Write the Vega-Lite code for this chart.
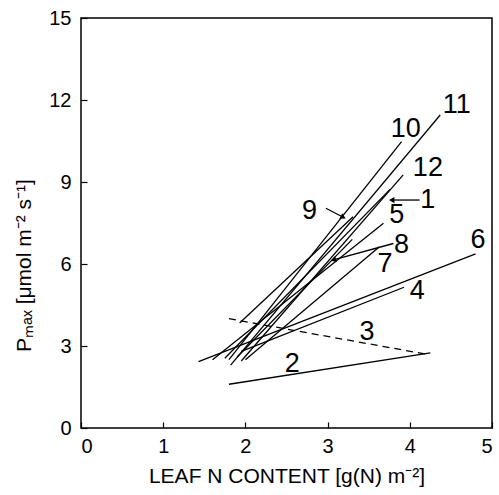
{
  "$schema": "https://vega.github.io/schema/vega-lite/v6.json",
  "width": 411,
  "height": 410,
  "autosize": "none",
  "padding": {"left": 81, "top": 18, "right": 7, "bottom": 67},
  "config": {
    "view": {"stroke": "black", "strokeWidth": 1.5},
    "font": "Liberation Sans",
    "axis": {
      "grid": false,
      "domain": false,
      "tickColor": "black",
      "tickSize": -6,
      "tickWidth": 1.2,
      "labelColor": "black",
      "labelFont": "Liberation Sans",
      "labelFontSize": 20,
      "titleFont": "Liberation Sans",
      "titleFontSize": 21,
      "titleFontWeight": "normal",
      "titleColor": "black"
    }
  },
  "datasets": {
    "segs": [
      {"id": "1", "x": 1.75, "y": 2.55, "x2": 3.76, "y2": 8.73, "dash": "solid"},
      {"id": "2", "x": 1.8, "y": 1.6, "x2": 4.25, "y2": 2.75, "dash": "solid"},
      {"id": "3", "x": 1.8, "y": 4.0, "x2": 4.2, "y2": 2.7, "dash": "dashed"},
      {"id": "4", "x": 1.95, "y": 2.8, "x2": 3.93, "y2": 5.15, "dash": "solid"},
      {"id": "5", "x": 1.6, "y": 2.5, "x2": 3.68, "y2": 7.49, "dash": "solid"},
      {"id": "6", "x": 1.43, "y": 2.43, "x2": 4.8, "y2": 6.37, "dash": "solid"},
      {"id": "7", "x": 2.0, "y": 2.5, "x2": 3.63, "y2": 6.63, "dash": "solid"},
      {"id": "8", "x": 1.9, "y": 2.6, "x2": 3.3, "y2": 6.9, "dash": "solid"},
      {"id": "9", "x": 1.93, "y": 3.84, "x2": 3.31, "y2": 7.73, "dash": "solid"},
      {"id": "10", "x": 1.8, "y": 2.5, "x2": 3.9, "y2": 10.48, "dash": "solid"},
      {"id": "11", "x": 1.82, "y": 2.3, "x2": 4.37, "y2": 11.45, "dash": "solid"},
      {"id": "12", "x": 1.95, "y": 2.45, "x2": 3.92, "y2": 9.26, "dash": "solid"}
    ],
    "labels": [
      {"label": "10", "x": 3.95, "y": 10.95},
      {"label": "11", "x": 4.57, "y": 11.82},
      {"label": "12", "x": 4.22, "y": 9.51},
      {"label": "1", "x": 4.22, "y": 8.34},
      {"label": "9", "x": 2.78, "y": 7.94},
      {"label": "5", "x": 3.84, "y": 7.8},
      {"label": "8", "x": 3.9, "y": 6.7},
      {"label": "7", "x": 3.7, "y": 6.0},
      {"label": "6", "x": 4.83, "y": 6.88},
      {"label": "4", "x": 4.09, "y": 5.01},
      {"label": "3", "x": 3.48, "y": 3.51},
      {"label": "2", "x": 2.57, "y": 2.34}
    ],
    "arrows": [
      {"id": "9", "x": 2.98, "y": 8.04, "x2": 3.19, "y2": 7.71, "dir": 28.5},
      {"id": "1", "x": 4.12, "y": 8.34, "x2": 3.78, "y2": 8.34, "dir": 180},
      {"id": "8", "x": 3.8, "y": 6.75, "x2": 3.07, "y2": 6.15, "dir": 163}
    ]
  },
  "layer": [
    {
      "data": {"name": "segs"},
      "transform": [{"filter": "datum.dash == 'solid'"}],
      "mark": {"type": "rule", "color": "black", "strokeWidth": 1.3},
      "encoding": {
        "x": {"field": "x", "type": "quantitative", "scale": {"domain": [0, 5], "nice": false, "zero": false},
          "axis": {"values": [0, 1, 2, 3, 4, 5], "format": "d", "labelPadding": 14, "title": "LEAF N CONTENT  [g(N) m⁻²]", "titlePadding": 9}},
        "y": {"field": "y", "type": "quantitative", "scale": {"domain": [0, 15], "nice": false, "zero": false},
          "axis": {"values": [0, 3, 6, 9, 12, 15], "format": "d", "labelPadding": 16, "title": "Pₘₐₓ  [μmol m⁻² s⁻¹]", "titlePadding": 14, "titleY": 247}},
        "x2": {"field": "x2"},
        "y2": {"field": "y2"}
      }
    },
    {
      "data": {"name": "segs"},
      "transform": [{"filter": "datum.dash == 'dashed'"}],
      "mark": {"type": "rule", "color": "black", "strokeWidth": 1.3, "strokeDash": [7, 5]},
      "encoding": {
        "x": {"field": "x", "type": "quantitative"},
        "y": {"field": "y", "type": "quantitative"},
        "x2": {"field": "x2"},
        "y2": {"field": "y2"}
      }
    },
    {
      "data": {"name": "arrows"},
      "mark": {"type": "rule", "color": "black", "strokeWidth": 1.3},
      "encoding": {
        "x": {"field": "x", "type": "quantitative"},
        "y": {"field": "y", "type": "quantitative"},
        "x2": {"field": "x2"},
        "y2": {"field": "y2"}
      }
    },
    {
      "data": {"name": "arrows"},
      "mark": {"type": "point", "shape": "triangle-right", "filled": true, "color": "black", "size": 40, "opacity": 1},
      "encoding": {
        "x": {"field": "x2", "type": "quantitative"},
        "y": {"field": "y2", "type": "quantitative"},
        "angle": {"field": "dir", "type": "quantitative", "scale": null}
      }
    },
    {
      "data": {"name": "labels"},
      "mark": {"type": "text", "fontSize": 27, "font": "Liberation Sans", "color": "black"},
      "encoding": {
        "x": {"field": "x", "type": "quantitative"},
        "y": {"field": "y", "type": "quantitative"},
        "text": {"field": "label"}
      }
    }
  ]
}
